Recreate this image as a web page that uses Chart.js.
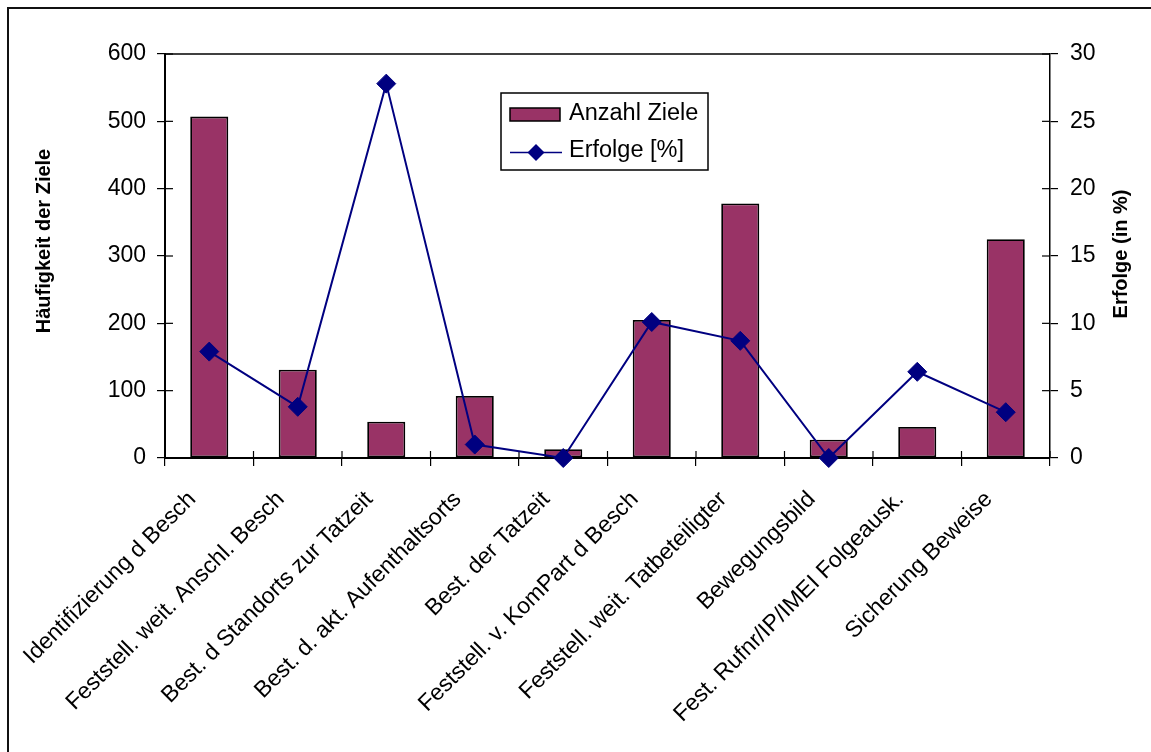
<!DOCTYPE html>
<html>
<head>
<meta charset="utf-8">
<script src="https://cdn.jsdelivr.net/npm/chart.js@4.4.1/dist/chart.umd.min.js"></script>
<style>
  html, body { margin: 0; padding: 0; background: #fff; overflow: hidden; }
  #wrap { position: relative; width: 1151px; height: 752px; overflow: hidden; }
  #frame { position: absolute; left: 7px; top: 7px; width: 2000px; height: 2000px; border: 2px solid #111; box-sizing: border-box; }
  canvas { position: absolute; left: 0; top: 0; }
</style>
</head>
<body>
<div id="wrap">
  <div id="frame"></div>
  <canvas id="c" width="1151" height="752"></canvas>
</div>
<script>
const categories = [
  "Identifizierung d Besch",
  "Feststell. weit. Anschl. Besch",
  "Best. d Standorts zur Tatzeit",
  "Best. d. akt. Aufenthaltsorts",
  "Best. der Tatzeit",
  "Feststell. v. KomPart d Besch",
  "Feststell. weit. Tatbeteiligter",
  "Bewegungsbild",
  "Fest. Rufnr/IP/IMEI Folgeausk.",
  "Sicherung Beweise"
];
const anzahlZiele = [507, 131, 54, 92, 13, 205, 378, 27, 46, 325];
const erfolgeProzent = [7.9, 3.8, 27.8, 1.0, 0, 10.1, 8.7, 0, 6.4, 3.4];
const seriesNames = ["Anzahl Ziele", "Erfolge [%]"];
const axisTitles = ["Häufigkeit der Ziele", "Erfolge (in %)"];

const FONT = "'Liberation Sans', Arial, sans-serif";
const BAR_COLOR = "#993366";
const LINE_COLOR = "#000080";

const extras = {
  id: 'extras',
  beforeDatasetsDraw(chart) {
    const ctx = chart.ctx;
    const a = chart.chartArea;
    ctx.save();
    ctx.strokeStyle = '#000';
    ctx.lineWidth = 1.5;
    ctx.beginPath();
    ctx.moveTo(a.left, a.top); ctx.lineTo(a.right, a.top);
    ctx.stroke();
    ctx.lineWidth = 1.2;
    const yl = chart.scales.y, yr = chart.scales.y1, xs = chart.scales.x;
    yl.ticks.forEach(t => { const p = yl.getPixelForValue(t.value); ctx.beginPath(); ctx.moveTo(a.left, p); ctx.lineTo(a.left + 8, p); ctx.stroke(); });
    yr.ticks.forEach(t => { const p = yr.getPixelForValue(t.value); ctx.beginPath(); ctx.moveTo(a.right, p); ctx.lineTo(a.right - 8, p); ctx.stroke(); });
    const n = categories.length;
    const w = (xs.right - xs.left) / n;
    for (let i = 0; i <= n; i++) {
      const px = xs.left + i * w;
      ctx.beginPath(); ctx.moveTo(px, a.bottom); ctx.lineTo(px, a.bottom - 7); ctx.stroke();
    }
    ctx.restore();
  },
  afterDraw(chart) {
    const ctx = chart.ctx;
    const a = chart.chartArea;
    ctx.save();
    ctx.fillStyle = '#000';
    ctx.font = "bold 20px " + FONT;
    ctx.textAlign = 'center';
    ctx.textBaseline = 'middle';
    ctx.save(); ctx.translate(44, a.top + (a.bottom - a.top) / 2 - 15); ctx.rotate(-Math.PI / 2); ctx.fillText(axisTitles[0], 0, 0); ctx.restore();
    ctx.save(); ctx.translate(1121, a.top + (a.bottom - a.top) / 2 - 2); ctx.rotate(-Math.PI / 2); ctx.fillText(axisTitles[1], 0, 0); ctx.restore();

    const lx = a.left + 336, ly = a.top + 39, lw = 207, lh = 77;
    ctx.fillStyle = '#fff';
    ctx.fillRect(lx, ly, lw, lh);
    ctx.strokeStyle = '#000';
    ctx.lineWidth = 1.5;
    ctx.strokeRect(lx, ly, lw, lh);
    ctx.fillStyle = BAR_COLOR;
    ctx.fillRect(lx + 9, ly + 15, 50, 13);
    ctx.lineWidth = 1.5;
    ctx.strokeRect(lx + 9, ly + 15, 50, 13);
    const sy = ly + 59.5;
    ctx.strokeStyle = LINE_COLOR;
    ctx.lineWidth = 1.5;
    ctx.beginPath(); ctx.moveTo(lx + 9, sy); ctx.lineTo(lx + 61, sy); ctx.stroke();
    ctx.fillStyle = LINE_COLOR;
    const cx = lx + 35, r = 8.5;
    ctx.beginPath(); ctx.moveTo(cx, sy - r); ctx.lineTo(cx + r, sy); ctx.lineTo(cx, sy + r); ctx.lineTo(cx - r, sy); ctx.closePath(); ctx.fill();
    ctx.fillStyle = '#000';
    ctx.font = "23.5px " + FONT;
    ctx.textAlign = 'left';
    ctx.textBaseline = 'middle';
    ctx.fillText(seriesNames[0], lx + 68, ly + 21);
    ctx.fillText(seriesNames[1], lx + 68, ly + 58);
    ctx.restore();
  }
};

new Chart(document.getElementById('c'), {
  type: 'bar',
  data: {
    labels: categories,
    datasets: [
      {
        type: 'line',
        label: seriesNames[1],
        data: erfolgeProzent,
        yAxisID: 'y1',
        borderColor: LINE_COLOR,
        backgroundColor: LINE_COLOR,
        borderWidth: 2,
        pointStyle: 'rectRot',
        pointRadius: 9.5,
        pointHoverRadius: 9.5,
        pointBackgroundColor: LINE_COLOR,
        pointBorderColor: LINE_COLOR,
        pointBorderWidth: 1,
        tension: 0,
        clip: false,
        order: 1
      },
      {
        type: 'bar',
        label: seriesNames[0],
        data: anzahlZiele,
        yAxisID: 'y',
        backgroundColor: BAR_COLOR,
        borderColor: '#000',
        borderWidth: 1.8,
        borderSkipped: false,
        barPercentage: 0.43,
        categoryPercentage: 1.0,
        order: 2
      }
    ]
  },
  options: {
    responsive: false,
    animation: false,
    devicePixelRatio: 1,
    layout: { padding: { top: 54, left: 0, right: 0, bottom: 0 } },
    plugins: { legend: { display: false }, tooltip: { enabled: false } },
    scales: {
      x: {
        type: 'category',
        offset: true,
        grid: { offset: true, drawOnChartArea: false, drawTicks: true, tickLength: 8, color: '#000', lineWidth: 1.2 },
        border: { display: true, color: '#000', width: 2 },
        ticks: { autoSkip: false, minRotation: 45, maxRotation: 45, padding: 20, labelOffset: -17, color: '#000', font: { family: FONT, size: 23 } },
        afterFit(s) { s.height = 752 - 458; }
      },
      y: {
        position: 'left',
        min: 0, max: 600,
        ticks: { stepSize: 100, padding: 11, color: '#000', font: { family: FONT, size: 23 } },
        grid: { drawOnChartArea: false, drawTicks: true, tickLength: 8, color: '#000', lineWidth: 1.2 },
        border: { display: true, color: '#000', width: 2 },
        afterFit(s) { s.width = 165; }
      },
      y1: {
        position: 'right',
        min: 0, max: 30,
        ticks: { stepSize: 5, padding: 12, color: '#000', font: { family: FONT, size: 23 } },
        grid: { drawOnChartArea: false, drawTicks: true, tickLength: 8, color: '#000', lineWidth: 1.2 },
        border: { display: true, color: '#000', width: 1.5 },
        afterFit(s) { s.width = 1151 - 1050; }
      }
    }
  },
  plugins: [extras]
});
</script>
</body>
</html>
